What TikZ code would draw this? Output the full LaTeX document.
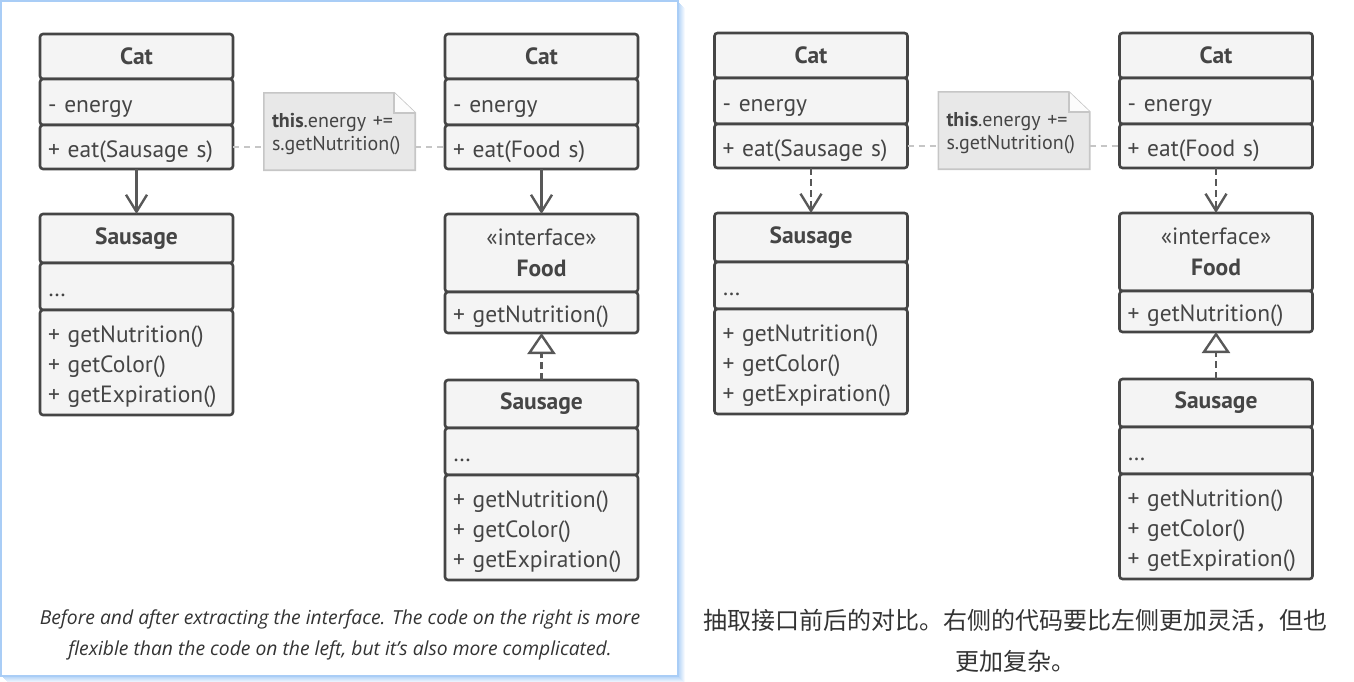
\documentclass[tikz,border=0pt]{standalone}
\usepackage{fontspec}
\setmainfont{PT Sans}
\newfontfamily\capfont{Open Sans}
\newfontfamily\cjk{Noto Sans CJK SC}
\usetikzlibrary{positioning,arrows.meta}
\definecolor{umlline}{HTML}{454545}
\definecolor{umlfill}{HTML}{F4F4F4}
\definecolor{notefill}{HTML}{E8E8E8}
\definecolor{noteline}{HTML}{C6C6C6}
\definecolor{panelblue}{HTML}{A9CDF6}
\definecolor{captext}{HTML}{333333}
\tikzset{
  part/.style  = { draw=umlline, fill=umlfill, line width=2.6pt, rounded corners=3pt,
    minimum width=193pt, inner xsep=8pt, inner ysep=0pt, outer sep=0pt,
    text=umlline, font=\fontsize{23.5}{30}\selectfont },
  head/.style  = { part, align=center, font=\fontsize{23.5}{31}\selectfont\bfseries },
  body/.style  = { part, text width=177pt, align=left, text height=26pt, text depth=6pt },
  ops/.style   = { body, text depth=66pt },
  note/.style  = { minimum width=151pt, minimum height=77pt, inner xsep=8pt, inner ysep=0pt,
    text width=135pt, align=left, text height=19pt, text depth=28pt,
    text=umlline, font=\fontsize{20}{23}\selectfont },
  notelink/.style = { noteline, line width=1.6pt, dash pattern=on 6pt off 5pt },
  assoc/.style = { umlline!90, line width=2.4pt, -{Straight Barb[length=17pt,width=21pt,line width=2.4pt]} },
  depline/.style = { dash pattern=on 7pt off 4pt },
  impl/.style  = { umlline!90, line width=2.4pt, depline,
    -{Triangle[open,length=21pt,width=28pt,line width=2.4pt]} },
  caption/.style = { align=center, text=captext }
}
\begin{document}
\begin{tikzpicture}[x=1pt,y=-1pt]
  \useasboundingbox (0,0) rectangle (1354,681);
  % selected panel frame with soft shadow
  \foreach \s in {1,...,6}
    \draw[panelblue, opacity=0.9-0.13*\s, line width=1pt] (678+\s,2+\s) -- (678+\s,676+\s) -- (2+\s,676+\s);
  \draw[panelblue, line width=1.5pt] (0.75,0.75) rectangle (678,676);

  % before (L) and after (R), same layout
  \foreach \p/\dx/\dy/\dep in {L/0/0/solid, R/674.5/1/depline}{
    \begin{scope}[xshift=\dx pt, yshift=\dy pt]
      % client
      \node[head, minimum height=45pt, anchor=north] (cat\p) at (136.5,34) {Cat};
      \node[body, minimum height=46pt, below=0pt of cat\p] (catattr\p) {- energy};
      \node[body, minimum height=44pt, below=0pt of catattr\p] (catops\p) {+ eat(Sausage s)};
      \node[head, minimum height=49pt, anchor=north] (saus\p) at (136.5,214) {Sausage};
      \node[body, minimum height=47pt, below=0pt of saus\p] (sausattr\p) {\dots};
      \node[ops, minimum height=105pt, below=0pt of sausattr\p] (sausops\p)
        {+ getNutrition()\\+ getColor()\\+ getExpiration()};
      % client after the interface
      \node[head, minimum height=45pt, anchor=north] (cattwo\p) at (541.5,34) {Cat};
      \node[body, minimum height=46pt, below=0pt of cattwo\p] (cattwoattr\p) {- energy};
      \node[body, minimum height=44pt, below=0pt of cattwoattr\p] (cattwoops\p) {+ eat(Food s)};
      \node[head, minimum height=78pt, anchor=north] (food\p) at (541.5,214)
        {{\mdseries\guillemotleft interface\guillemotright}\\Food};
      \node[body, minimum height=41pt, below=0pt of food\p] (foodops\p) {+ getNutrition()};
      \node[head, minimum height=48pt, anchor=north] (saustwo\p) at (541.5,380) {Sausage};
      \node[body, minimum height=47pt, below=0pt of saustwo\p] (saustwoattr\p) {\dots};
      \node[ops, minimum height=105pt, below=0pt of saustwoattr\p] (saustwoops\p)
        {+ getNutrition()\\+ getColor()\\+ getExpiration()};
      % note
      \node[note] (memo\p) at (339.5,131.5) {};
      \draw[noteline, fill=notefill, line width=1.6pt]
        (memo\p.north west) -- ([xshift=-21pt]memo\p.north east)
        -- ([yshift=-20pt]memo\p.north east) -- (memo\p.south east)
        -- (memo\p.south west) -- cycle;
      \draw[noteline, fill=white!85!notefill, line width=1.6pt]
        ([xshift=-21pt]memo\p.north east) -- ([xshift=-21pt,yshift=-20pt]memo\p.north east)
        -- ([yshift=-20pt]memo\p.north east);
      \node[note] at (memo\p) {\textbf{this}.energy +=\\s.getNutrition()};
      \draw[notelink] (catops\p.east) -- (catops\p.east -| memo\p.west);
      \draw[notelink] (cattwoops\p.west -| memo\p.east) -- (cattwoops\p.west);
      % connectors
      \draw[assoc, \dep] (catops\p) -- (saus\p);
      \draw[assoc, \dep] (cattwoops\p) -- (food\p);
      \draw[impl] (saustwo\p) -- (foodops\p);
    \end{scope}
  }

  \node[caption, font=\capfont\itshape\fontsize{19.3}{31}\selectfont] (capen) at (340,635)
    {Before and after extracting the interface. The code on the right is more\\
     flexible than the code on the left, but it’s also more complicated.};
  \node[caption, font=\cjk\fontsize{24}{41}\selectfont] (capzh) at (1015,641)
    {抽取接口前后的对比。右侧的代码要比左侧更加灵活，但也\\更加复杂。};
\end{tikzpicture}
\end{document}
